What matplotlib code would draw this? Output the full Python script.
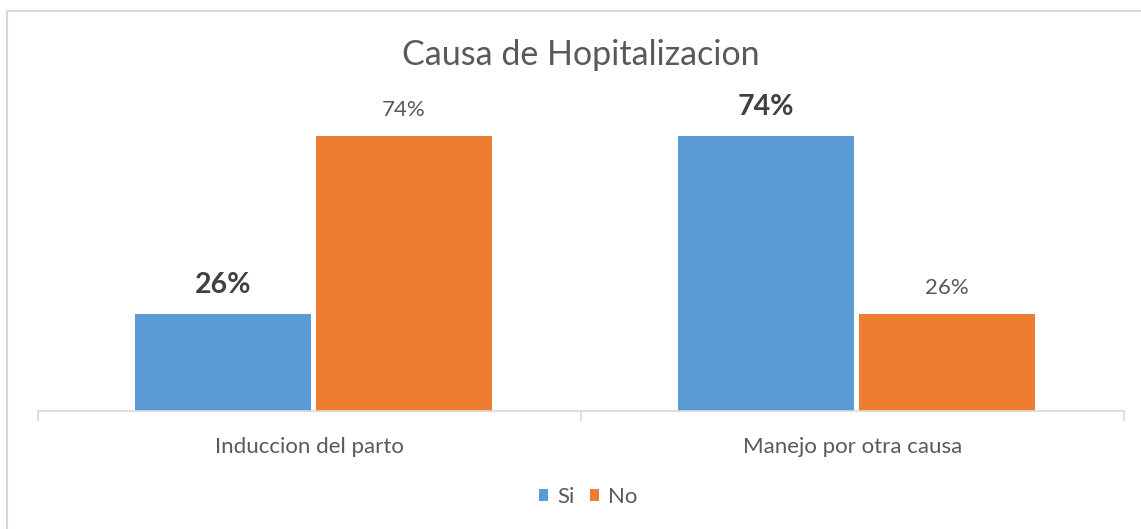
import matplotlib.pyplot as plt
import matplotlib.patches as mpatches
import numpy as np

# Data
categories = ["Induccion del parto", "Manejo por otra causa"]
si_values = [0.26, 0.74]
no_values = [0.74, 0.26]
series_names = ["Si", "No"]
si_bold = [True, True]
no_bold = [False, False]

blue = "#5B9BD5"
orange = "#ED7D31"
text_gray = "#595959"
line_gray = "#D9D9D9"

plt.rcParams['font.family'] = ['Lato', 'DejaVu Sans']

fig = plt.figure(figsize=(11.41, 5.29), dpi=100)
ax = fig.add_axes([38 / 1141, 1 - 411 / 529, (1124 - 38) / 1141, (411 - 114) / 529])

# outer chart border
fig.patches.append(mpatches.Rectangle((7 / 1141, -0.01), 1.0, 1 - 11 / 529 + 0.01,
                                      transform=fig.transFigure, fill=False,
                                      edgecolor=line_gray, linewidth=1.5))

x = np.arange(len(categories)) + 0.007
w = 0.324
gap = 0.0046
b1 = ax.bar(x - w / 2 - gap, si_values, w, color=blue, label=series_names[0])
b2 = ax.bar(x + w / 2 + gap, no_values, w, color=orange, label=series_names[1])

for bars, vals, bolds in [(b1, si_values, si_bold), (b2, no_values, no_bold)]:
    for i, (rect, v) in enumerate(zip(bars, vals)):
        # bold labels only on the "Si" series
        is_bold = bolds[i]
        ax.annotate(f"{v * 100:.0f}%",
                    (rect.get_x() + rect.get_width() / 2, rect.get_height()),
                    xytext=(0, 12), textcoords="offset points",
                    ha="center", va="bottom", color="#404040" if is_bold else text_gray,
                    fontsize=20.5 if is_bold else 16,
                    fontweight="bold" if is_bold else "normal")

ax.set_xlim(-0.5, 1.5)
ax.set_ylim(0, 0.8)
ax.set_yticks([])
ax.set_xticks(np.arange(len(categories)))
ax.set_xticklabels(categories, fontsize=16, color=text_gray)
ax.set_xticks([-0.5, 0.5, 1.5], minor=True)
ax.tick_params(axis="x", which="major", length=0, pad=19)
ax.tick_params(axis="x", which="minor", length=7, color=line_gray, width=1.2)

for s in ["top", "left", "right"]:
    ax.spines[s].set_visible(False)
ax.spines["bottom"].set_color(line_gray)
ax.spines["bottom"].set_linewidth(1.2)

fig.text(581 / 1141, 1 - 55 / 529, "Causa de Hopitalizacion", ha="center", va="center",
         fontsize=24.5, color=text_gray)

fig.legend(handles=[b1, b2], labels=series_names, loc="center",
           bbox_to_anchor=(588 / 1141, 1 - 497 / 529), ncol=2, frameon=False,
           fontsize=16, handlelength=0.42, handleheight=0.42, handletextpad=0.4,
           columnspacing=0.7, labelcolor=text_gray)

plt.savefig("out.png", dpi=100)
